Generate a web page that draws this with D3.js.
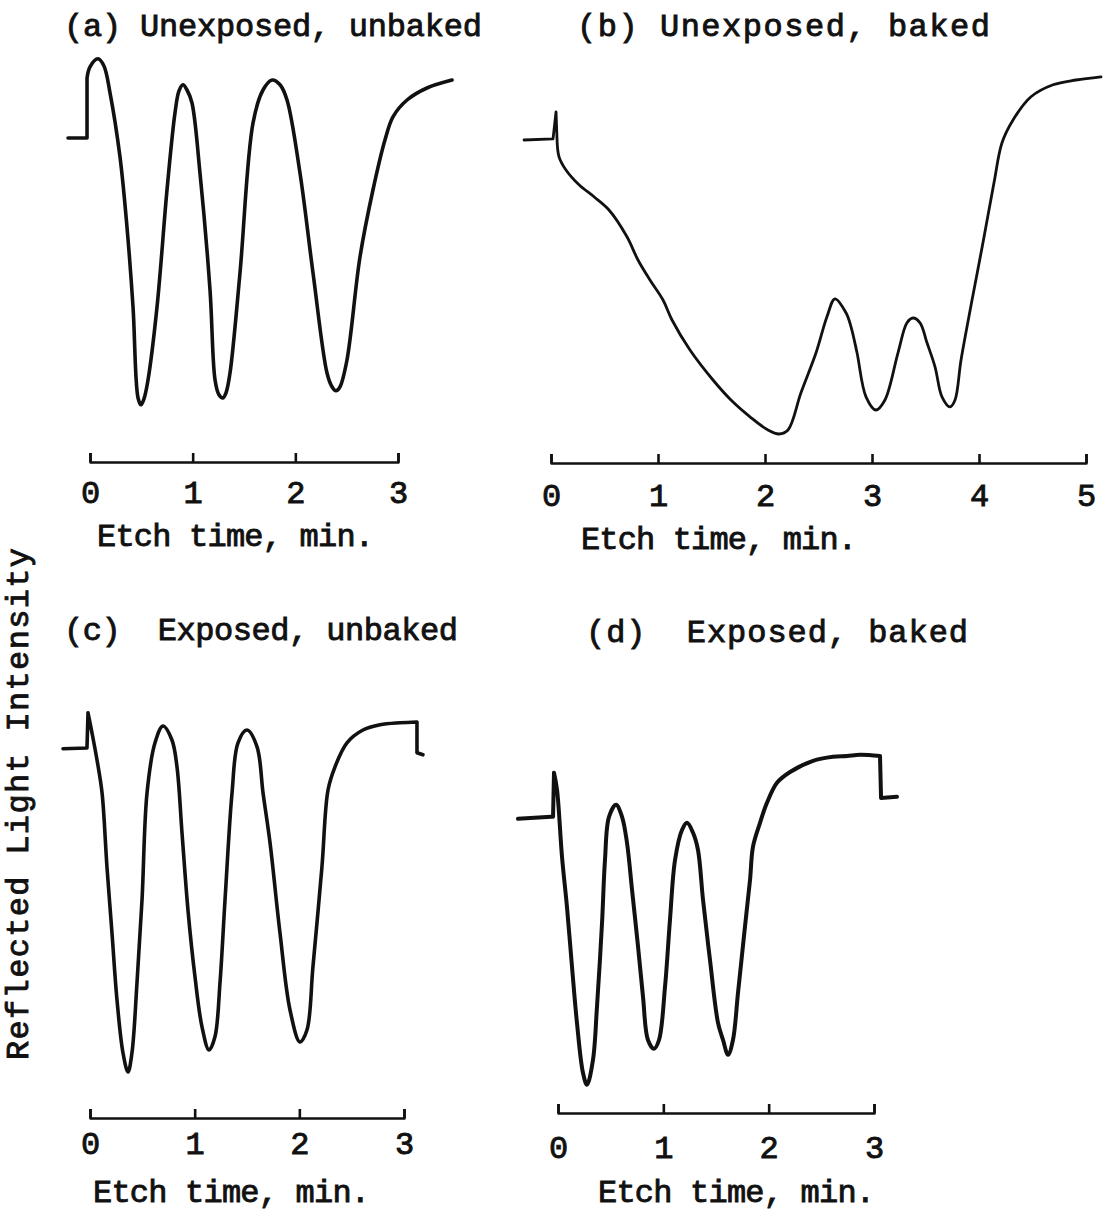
<!DOCTYPE html>
<html>
<head>
<meta charset="utf-8">
<script src="https://cdn.jsdelivr.net/npm/d3@7"></script>
<style>
  html, body { margin: 0; padding: 0; background: #fff; }
  svg { display: block; }
</style>
</head>
<body>
<div id="wrapper"></div>
<script>
// values: time in minutes, intensity in arbitrary units (0-10)
const timeA = [-0.214, -0.029, -0.029, 0.000, 0.078, 0.136, 0.195, 0.292, 0.360, 0.419, 0.468, 0.497, 0.526, 0.565, 0.653, 0.750, 0.828, 0.867, 0.906, 0.945, 0.993, 1.071, 1.169, 1.218, 1.256, 1.295, 1.325, 1.364, 1.461, 1.588, 1.685, 1.773, 1.851, 1.919, 2.045, 2.172, 2.308, 2.357, 2.396, 2.435, 2.503, 2.630, 2.756, 2.873, 2.951, 3.088, 3.282, 3.526];
const valueA = [7.30, 7.30, 8.80, 9.08, 9.28, 9.10, 8.43, 6.83, 5.08, 3.08, 0.80, 0.63, 0.78, 1.25, 3.08, 6.00, 7.93, 8.48, 8.63, 8.50, 8.18, 6.43, 3.50, 1.25, 0.88, 0.80, 0.93, 1.43, 3.93, 7.68, 8.50, 8.75, 8.63, 8.25, 6.43, 3.93, 1.43, 1.08, 0.98, 1.08, 1.75, 4.33, 6.00, 7.25, 7.83, 8.25, 8.55, 8.75];

const timeB = [-0.252, 0.019, 0.047, 0.056, 0.075, 0.140, 0.262, 0.402, 0.542, 0.710, 0.813, 0.925, 1.047, 1.131, 1.299, 1.514, 1.682, 1.860, 2.028, 2.131, 2.215, 2.336, 2.477, 2.579, 2.654, 2.757, 2.804, 2.860, 2.944, 3.037, 3.121, 3.243, 3.327, 3.383, 3.449, 3.514, 3.589, 3.654, 3.729, 3.776, 3.832, 3.935, 4.037, 4.140, 4.215, 4.318, 4.486, 4.692, 4.907, 5.140];
const valueB = [7.75, 7.78, 8.45, 7.80, 7.33, 7.00, 6.63, 6.33, 6.00, 5.33, 4.75, 4.25, 3.75, 3.25, 2.50, 1.75, 1.25, 0.83, 0.50, 0.40, 0.50, 1.43, 2.43, 3.33, 3.78, 3.43, 3.08, 2.43, 1.33, 1.00, 1.25, 2.43, 3.18, 3.30, 3.18, 2.68, 2.08, 1.33, 1.08, 1.25, 2.25, 3.75, 5.18, 6.68, 7.68, 8.25, 8.83, 9.13, 9.25, 9.33];

const timeC = [-0.258, -0.029, -0.019, 0.019, 0.067, 0.115, 0.162, 0.210, 0.258, 0.315, 0.363, 0.401, 0.449, 0.497, 0.545, 0.621, 0.697, 0.783, 0.831, 0.879, 0.936, 1.003, 1.070, 1.137, 1.194, 1.242, 1.290, 1.357, 1.414, 1.500, 1.596, 1.653, 1.720, 1.815, 1.911, 2.006, 2.073, 2.130, 2.216, 2.274, 2.341, 2.455, 2.608, 2.771, 2.962, 3.124, 3.124, 3.181];
const valueC = [8.53, 8.55, 9.43, 8.93, 8.25, 7.43, 5.58, 3.93, 2.25, 0.93, 0.45, 0.93, 2.68, 4.75, 7.43, 8.68, 9.10, 8.75, 8.08, 6.43, 4.50, 2.83, 1.58, 1.00, 1.33, 2.68, 4.75, 7.43, 8.68, 9.00, 8.58, 7.43, 6.18, 3.93, 2.00, 1.20, 1.50, 3.08, 5.58, 7.50, 8.08, 8.68, 9.00, 9.13, 9.18, 9.20, 8.43, 8.38];

const timeD = [-0.380, -0.066, -0.047, -0.038, -0.009, 0.038, 0.085, 0.133, 0.180, 0.237, 0.275, 0.332, 0.370, 0.418, 0.446, 0.484, 0.551, 0.608, 0.655, 0.703, 0.760, 0.807, 0.854, 0.911, 0.959, 1.016, 1.063, 1.111, 1.177, 1.225, 1.282, 1.329, 1.377, 1.443, 1.519, 1.567, 1.614, 1.661, 1.709, 1.775, 1.823, 1.851, 1.918, 1.984, 2.079, 2.203, 2.421, 2.611, 2.744, 2.867, 3.057, 3.067, 3.218];
const valueD = [7.03, 7.08, 7.08, 8.18, 7.75, 6.08, 4.83, 3.33, 1.93, 0.68, 0.38, 1.00, 2.33, 4.43, 6.00, 7.08, 7.38, 7.08, 6.43, 5.25, 3.83, 2.58, 1.50, 1.28, 1.50, 2.83, 4.50, 6.00, 6.75, 6.93, 6.68, 6.25, 5.00, 3.50, 1.93, 1.50, 1.13, 1.50, 2.68, 4.33, 5.50, 6.33, 6.93, 7.43, 7.93, 8.20, 8.48, 8.58, 8.60, 8.63, 8.60, 7.55, 7.58];

const ticksA = [0, 1, 2, 3];
const ticksB = [0, 1, 2, 3, 4, 5];
const ticksC = [0, 1, 2, 3];
const ticksD = [0, 1, 2, 3];

const titles = ["(a) Unexposed, unbaked", "(b) Unexposed, baked", "(c)  Exposed, unbaked", "(d)  Exposed, baked"];
const xLabel = "Etch time, min.";
const yLabel = "Reflected Light Intensity";

// layout of each panel on the page; smooth = index range drawn as a curve,
// the pieces outside it (the recorder's step jumps) stay straight
const layout = [
    { x0: 90,  x1: 398,  bottom: 430,  axisY: 462,  pad: 18, width: 3.6, smooth: [2, 47],
      title: { x: 64, y: 36, len: 418 },  label: { x: 97, y: 546, len: 277 } },
    { x0: 551, x1: 1086, bottom: 450,  axisY: 463,  pad: 20, width: 2.8, smooth: [3, 49],
      title: { x: 577, y: 36, len: 413 }, label: { x: 581, y: 549, len: 276 } },
    { x0: 90,  x1: 404,  bottom: 1090, axisY: 1118, pad: 13, width: 3.6, smooth: [2, 45],
      title: { x: 64, y: 640, len: 394 }, label: { x: 93, y: 1202, len: 277 } },
    { x0: 558, x1: 874,  bottom: 1100, axisY: 1113, pad: 22, width: 4.0, smooth: [3, 50],
      title: { x: 586, y: 642, len: 382 }, label: { x: 598, y: 1202, len: 277 } }
];

const panels = [
    { time: timeA, value: valueA, ticks: ticksA },
    { time: timeB, value: valueB, ticks: ticksB },
    { time: timeC, value: valueC, ticks: ticksC },
    { time: timeD, value: valueD, ticks: ticksD }
];

const font = "'Liberation Mono', 'Courier New', monospace";
const ink = "#111";

const svg = d3.select("#wrapper").append("svg")
    .attr("width", 1104)
    .attr("height", 1214);

function typed(sel) {
    return sel
        .attr("fill", ink)
        .attr("stroke", ink)
        .attr("stroke-width", 0.9)
        .style("font-family", font)
        .style("font-size", "32px")
        .style("white-space", "pre");
}

panels.forEach((p, i) => {
    const L = layout[i];
    const tMax = d3.max(p.ticks);

    const xScaler = d3.scaleLinear()
        .domain([0, tMax])
        .range([L.x0, L.x1]);
    const yScaler = d3.scaleLinear()
        .domain([0, 10])
        .range([L.bottom, L.bottom - 400]);

    const points = p.time.map((t, j) => [t, p.value[j]]);
    const [s0, s1] = L.smooth;

    const straight = d3.line()
        .x(d => xScaler(d[0]))
        .y(d => yScaler(d[1]));
    const smooth = d3.line()
        .x(d => xScaler(d[0]))
        .y(d => yScaler(d[1]))
        .curve(d3.curveCatmullRom.alpha(0.5));

    const pieces = [
        straight(points.slice(0, s0 + 1)),
        smooth(points.slice(s0, s1 + 1)),
        s1 < points.length - 1 ? straight(points.slice(s1)) : ""
    ];

    svg.append("path")
        .attr("d", pieces.join(""))
        .attr("fill", "none")
        .attr("stroke", ink)
        .attr("stroke-width", L.width)
        .attr("stroke-linejoin", "round")
        .attr("stroke-linecap", "round");

    // ticks point upwards, labels sit below the line
    const axis = d3.axisBottom(xScaler)
        .tickValues(p.ticks)
        .tickFormat(d3.format("d"))
        .tickSizeInner(-9)
        .tickSizeOuter(-9)
        .tickPadding(L.pad);

    const g = svg.append("g")
        .attr("transform", `translate(0, ${L.axisY})`)
        .call(axis);
    g.attr("font-family", null).attr("font-size", null);
    g.select(".domain")
        .attr("stroke", ink)
        .attr("stroke-width", 2.6)
        .attr("stroke-linejoin", "round");
    g.selectAll(".tick line")
        .attr("stroke", ink)
        .attr("stroke-width", 2.6);
    typed(g.selectAll(".tick text"));

    typed(svg.append("text"))
        .attr("x", L.title.x)
        .attr("y", L.title.y)
        .attr("textLength", L.title.len)
        .attr("lengthAdjust", "spacing")
        .text(titles[i]);

    typed(svg.append("text"))
        .attr("x", L.label.x)
        .attr("y", L.label.y)
        .attr("textLength", L.label.len)
        .attr("lengthAdjust", "spacing")
        .text(xLabel);
});

typed(svg.append("text"))
    .attr("transform", "translate(28, 804) rotate(-90)")
    .attr("text-anchor", "middle")
    .attr("textLength", 512)
    .attr("lengthAdjust", "spacing")
    .text(yLabel);
</script>
</body>
</html>
